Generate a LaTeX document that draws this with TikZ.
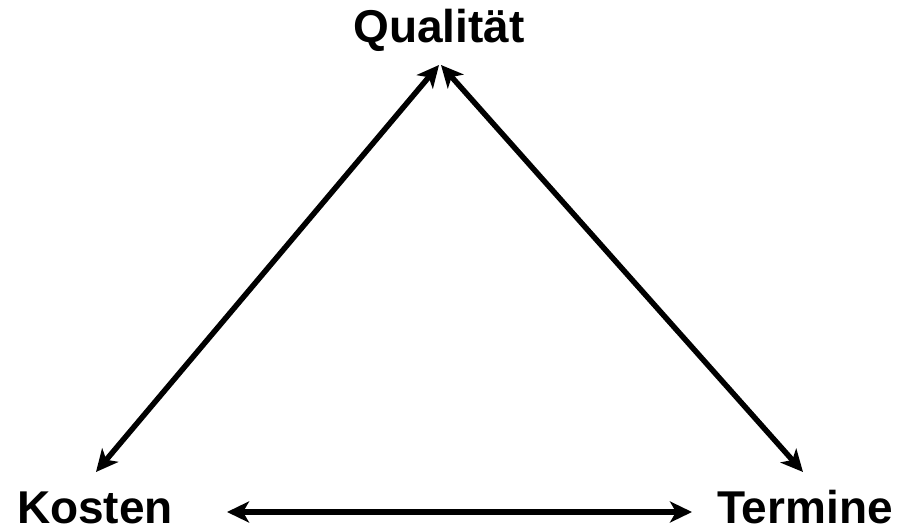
\documentclass[tikz,border=0pt]{standalone}
\usepackage{fontspec}
\setmainfont{Liberation Sans}
\usetikzlibrary{arrows.meta, positioning}
\tikzset{
  corner/.style={font=\bfseries\fontsize{46}{50}\selectfont, inner sep=0pt, anchor=base},
  link/.style={line width=5.5pt, {Stealth[length=22pt, width=21pt, inset=6pt]}-{Stealth[length=22pt, width=21pt, inset=6pt]}},
}
\begin{document}
\begin{tikzpicture}[x=1pt, y=-1pt]
  \useasboundingbox (0,0) rectangle (900,532);
  % the three corners
  \node[corner] (qual) at (439,43) {Qualität};
  \node[corner] (kost) at (95,523) {Kosten};
  \node[corner] (term) at (805,523) {Termine};
  % arrow ends
  \coordinate (qk) at (439,65);
  \coordinate (qt) at (441,65);
  \coordinate (kq) at (96,472);
  \coordinate (tq) at (803,472);
  \coordinate (kt) at (227,512);
  \coordinate (tk) at (692,512);
  \draw[link] (qk) -- (kq);
  \draw[link] (qt) -- (tq);
  \draw[link] (kt) -- (tk);
\end{tikzpicture}
\end{document}
